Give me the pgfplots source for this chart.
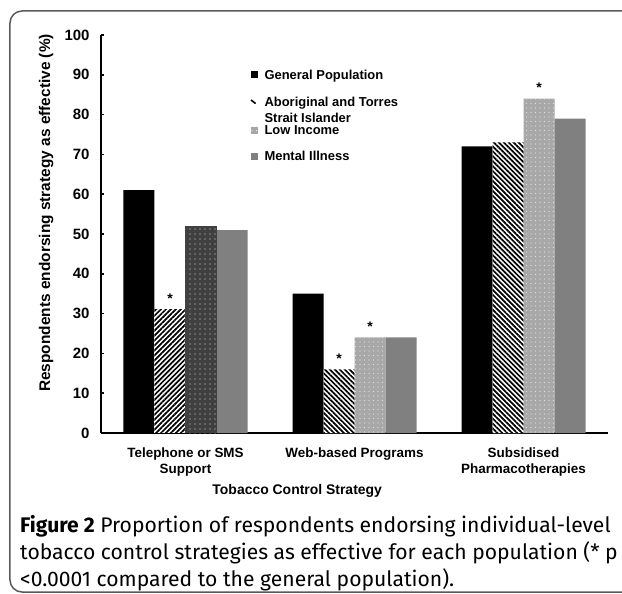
\documentclass[border=0pt]{standalone}
\usepackage{fontspec}
\setmainfont{Liberation Sans}
\newfontfamily\capfont{Fira Sans}
\usepackage{pgfplots}
\pgfplotsset{compat=1.18}
\usetikzlibrary{patterns.meta}

\definecolor{midgray}{RGB}{128,128,128}
\definecolor{darkdot}{RGB}{64,64,64}
\definecolor{lightdot}{RGB}{168,168,168}
\definecolor{lightdotw}{RGB}{225,225,225}
\definecolor{framegray}{RGB}{90,90,90}

\begin{document}
\begin{tikzpicture}
\useasboundingbox (-101bp,-161bp) rectangle (521bp,433bp);
\draw[line width=1.5bp, framegray, rounded corners=12bp] (-91bp,-159bp) rectangle (545bp,422bp);
\begin{axis}[
  at={(0,0)}, anchor=south west,
  scale only axis, width=507bp, height=398bp,
  xmin=-0.5, xmax=2.5, ymin=0, ymax=100,
  axis x line=bottom, axis y line=left,
  axis line style={-, line width=2bp, black},
  ytick={0,10,...,100},
  xtick={0,1,2},
  xticklabels={{Telephone or SMS\\Support},{Web-based Programs},{Subsidised\\Pharmacotherapies}},
  /pgf/number format/assume math mode=true,
  yticklabel style={font=\bfseries\fontsize{15}{16}\selectfont, xshift=-8bp},
  xticklabel style={font=\bfseries\fontsize{13.5}{16.5}\selectfont, align=center, yshift=-8bp},
  x tick style={draw=none},
  y tick style={line width=1.5bp, black},
  tick align=inside, major tick length=3bp,
  xlabel={Tobacco Control Strategy},
  ylabel={Respondents endorsing strategy as effective (\%)},
  xlabel style={font=\bfseries\fontsize{14}{16}\selectfont, at={(axis description cs:0.387,-0.145)}, anchor=center},
  ylabel style={font=\bfseries\fontsize{15.5}{17}\selectfont, at={(axis description cs:-0.108,0.553)}, anchor=center},
  legend style={at={(axis description cs:0.294,0.920)}, anchor=north west,
    draw=none, fill=none, font=\bfseries\fontsize{13}{16}\selectfont,
    row sep=10.5bp, inner sep=0pt, cells={anchor=base west, inner ysep=0pt}},
  ybar, bar width=31bp,
  every node near coord/.append style={font=\bfseries\fontsize{14}{14}\selectfont, anchor=south, inner sep=0pt, yshift=5.5bp, black},
]
\addplot[draw=none, fill=black, bar shift=-46.5bp,
  legend image code/.code={\path (0bp,0bp) (12bp,0bp); \fill[black] (0bp,1bp) rectangle (7bp,8bp);}]
  coordinates {(0,61) (1,35) (2,72)};
\addlegendentry{\raisebox{0bp}[10bp][0pt]{General Population}}

\addplot[draw=none, fill=white, bar shift=-15.5bp,
  postaction={pattern={Lines[angle=-45,distance=3.5bp,line width=1.7bp]}, pattern color=black},
  nodes near coords, point meta=explicit symbolic,
  legend image code/.code={\path (0bp,0bp) (12bp,0bp); \draw[line width=1.6bp] (0.5bp,5bp) -- (5bp,1.5bp);}]
  coordinates {(1,16) [*] (2,73) [{}]};
\addlegendentry{\raisebox{-1bp}[10bp][0pt]{\makebox[0pt][l]{\raisebox{-16bp}[0pt][0pt]{Strait Islander}}Aboriginal and Torres}}

\addplot[draw=none, fill=lightdot, bar shift=15.5bp,
  postaction={pattern={Dots[distance=4.5bp,radius=0.6bp]}, pattern color=lightdotw},
  nodes near coords, point meta=explicit symbolic,
  legend image code/.code={\path (0bp,0bp) (12bp,0bp); \fill[lightdot] (0bp,-3bp) rectangle (7bp,4bp);}]
  coordinates {(1,24) [*] (2,84) [*]};
\addlegendentry{\raisebox{-4bp}[10bp][0pt]{Low Income}}

\addplot[draw=none, fill=midgray, bar shift=46.5bp,
  legend image code/.code={\path (0bp,0bp) (12bp,0bp); \fill[midgray] (0bp,-3bp) rectangle (7bp,4bp);}]
  coordinates {(0,51) (1,24) (2,79)};
\addlegendentry{\raisebox{-4bp}[10bp][0pt]{Mental Illness}}

\addplot[forget plot, draw=none, fill=white, bar shift=-15.5bp,
  postaction={pattern={Lines[angle=45,distance=3.5bp,line width=1.7bp]}, pattern color=black},
  nodes near coords, point meta=explicit symbolic]
  coordinates {(0,31) [*]};

\addplot[forget plot, draw=none, fill=darkdot, bar shift=15.5bp,
  postaction={pattern={Dots[distance=5bp,radius=0.6bp]}, pattern color=white!85!black}]
  coordinates {(0,52)};
\end{axis}
\node[anchor=base west, inner sep=0pt, font=\capfont\fontsize{21.2}{27}\selectfont] at (-81bp,-99bp) {\textbf{Figure 2} Proportion of respondents endorsing individual-level};
\node[anchor=base west, inner sep=0pt, font=\capfont\fontsize{21.2}{27}\selectfont] at (-81bp,-126bp) {tobacco control strategies as effective for each population (* p};
\node[anchor=base west, inner sep=0pt, font=\capfont\fontsize{21.2}{27}\selectfont] at (-81bp,-153bp) {<0.0001 compared to the general population).};
\end{tikzpicture}
\end{document}
